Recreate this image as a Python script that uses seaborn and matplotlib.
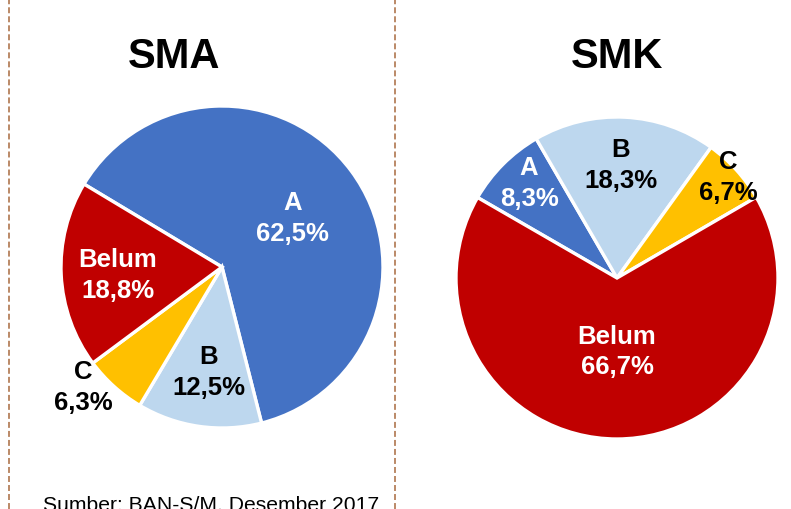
import matplotlib
matplotlib.use("Agg")
import matplotlib.pyplot as plt
import seaborn as sns
import numpy as np

sns.set_theme(style="white")
plt.rcParams['font.family'] = ['Liberation Sans', 'DejaVu Sans']

# ---- data ----
categories = ["A", "B", "C", "Belum"]
sma_values = [62.5, 12.5, 6.3, 18.8]
smk_values = [8.3, 18.3, 6.7, 66.7]
sma_labels = ["62,5%", "12,5%", "6,3%", "18,8%"]
smk_labels = ["8,3%", "18,3%", "6,7%", "66,7%"]
titles = ["SMA", "SMK"]
source_text = "Sumber: BAN-S/M, Desember 2017"

colors = ["#4472C4", "#BDD7EE", "#FFC000", "#C00000"]

W, H = 791, 509
fig = plt.figure(figsize=(W / 100, H / 100), dpi=100)
ax = fig.add_axes([0, 0, 1, 1])

R = 161
pies = [
    dict(values=sma_values, labels=sma_labels, center=(222, H - 267), start=149,
         lab=[(0.53, -2), (0.66, 1), (1.14, -7), (0.65, 2)], title_x=174,
         label_cols=["white", "black", "black", "white"]),
    dict(values=smk_values, labels=smk_labels, center=(617, H - 278), start=150,
         lab=[(0.80, -2), (0.70, 1), (0.93, 0), (0.46, 0)], title_x=617,
         label_cols=["white", "black", "black", "white"]),
]

for p, title in zip(pies, titles):
    wedges, _ = ax.pie(p["values"], colors=colors, startangle=p["start"],
                       counterclock=False, center=p["center"], radius=R,
                       wedgeprops=dict(edgecolor="white", linewidth=2.4))
    cx, cy = p["center"]
    for w, cat, pct, (d, dt), tc in zip(wedges, categories, p["labels"], p["lab"], p["label_cols"]):
        mid = np.deg2rad((w.theta1 + w.theta2) / 2 + dt)
        x = cx + d * R * np.cos(mid)
        y = cy + d * R * np.sin(mid)
        ax.text(x, y, f"{cat}\n{pct}", ha="center", va="center", color=tc,
                fontsize=18.5, fontweight="bold", linespacing=1.36)
    ax.text(p["title_x"], H - 57, title, ha="center", va="center",
            fontsize=30, fontweight="bold", color="black")

# source text (partly cut off at the bottom edge, as in the reference)
ax.text(211, H - 505, source_text, ha="center", va="center", fontsize=15.2, color="black")

# dashed separators
for xv in (9, 394.5):
    ax.plot([xv, xv], [0, H], color="#A86A3E", linewidth=1.1,
            linestyle=(0, (3.9, 2.0)))

ax.set_xlim(0, W)
ax.set_ylim(0, H)
ax.set_aspect("auto")
ax.axis("off")

fig.savefig("out.png", dpi=100)
